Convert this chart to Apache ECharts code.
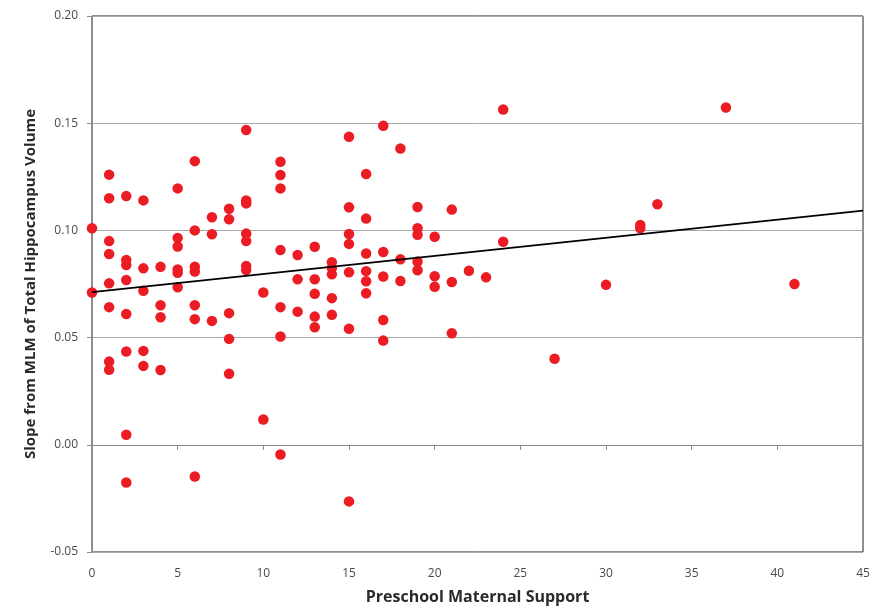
<!DOCTYPE html>
<html>
<head>
<meta charset="utf-8">
<script src="https://cdn.jsdelivr.net/npm/echarts@6/dist/echarts.min.js"></script>
<style>
html,body{margin:0;padding:0;background:#fff;}
#chart{width:877px;height:614px;}
</style>
</head>
<body>
<div id="chart"></div>
<script>
// Preschool Maternal Support (x) and slope values (y), grouped by x value
var supportX = [
  0,0,
  1,1,1,1,1,1,1,1,
  2,2,2,2,2,2,2,2,
  3,3,3,3,3,
  4,4,4,4,
  5,5,5,5,5,5,
  6,6,6,6,6,6,6,
  7,7,7,
  8,8,8,8,8,
  9,9,9,9,9,9,9,
  10,10,
  11,11,11,11,11,11,11,
  12,12,12,
  13,13,13,13,13,
  14,14,14,14,14,
  15,15,15,15,15,15,15,
  16,16,16,16,16,16,
  17,17,17,17,17,
  18,18,18,
  19,19,19,19,19,
  20,20,20,
  21,21,21,
  22,23,
  24,24,
  27,30,32,32,33,37,41
];
var slopeY = [
  0.101,0.071,
  0.126,0.115,0.0950,0.089,0.0753,0.0642,0.0388,0.0350,
  0.116,0.0862,0.0839,0.0769,0.061,0.0435,0.0047,-0.0176,
  0.114,0.0823,0.0718,0.0438,0.0368,
  0.083,0.0651,0.0595,0.0349,
  0.1196,0.0965,0.0925,0.0818,0.0802,0.0735,
  0.1323,0.100,0.0831,0.0808,0.0651,0.0586,-0.0148,
  0.1061,0.0982,0.0578,
  0.1101,0.1052,0.0614,0.0494,0.0331,
  0.1468,0.114,0.1126,0.0985,0.0950,0.0834,0.0815,
  0.071,0.0118,
  0.132,0.1258,0.1196,0.0908,0.0642,0.0505,-0.0045,
  0.0885,0.0772,0.0621,
  0.0924,0.0772,0.0704,0.0598,0.0548,
  0.0852,0.0825,0.0795,0.0684,0.0606,
  0.1437,0.1108,0.0983,0.0937,0.0805,0.0541,-0.0264,
  0.1263,0.1055,0.0892,0.0810,0.0763,0.0707,
  0.1488,0.0899,0.0785,0.0582,0.0486,
  0.1382,0.0865,0.0764,
  0.1109,0.1010,0.0980,0.0855,0.0814,
  0.0970,0.0786,0.0737,
  0.1097,0.0759,0.052,
  0.0812,0.0781,
  0.1564,0.0947,
  0.0401,0.0746,0.1025,0.1010,0.1122,0.1573,0.075
];
// Linear trend line end points
var trendX = [0, 45];
var trendY = [0.0712, 0.1092];

var xTicks = [0,5,10,15,20,25,30,35,40,45];
var yTicks = [-0.05,0,0.05,0.10,0.15,0.20];

var points = supportX.map(function(x,i){ return [x, slopeY[i]]; });
var trend = trendX.map(function(x,i){ return [x, trendY[i]]; });

var chart = echarts.init(document.getElementById('chart'), null, {renderer:'canvas'});
var labelFont = "'Open Sans', 'Liberation Sans', sans-serif";
chart.setOption({
  animation: false,
  backgroundColor: '#ffffff',
  grid: {left: 92, right: 14, top: 16, bottom: 62, show: true, borderColor: '#222222', borderWidth: 1},
  xAxis: {
    type: 'value', min: xTicks[0], max: xTicks[xTicks.length-1], interval: 5,
    name: 'Preschool Maternal Support', nameLocation: 'middle', nameGap: 37,
    nameTextStyle: {fontFamily: labelFont, fontWeight: 'bold', fontSize: 16, color: '#2a2a2a'},
    axisLine: {show: true, lineStyle: {color: '#8a8a8a', width: 1}},
    axisTick: {show: true, length: 5, lineStyle: {color: '#8a8a8a'}},
    axisLabel: {fontFamily: labelFont, fontSize: 12, color: '#4a4a4a', margin: 16},
    splitLine: {show: false}
  },
  yAxis: {
    type: 'value', min: yTicks[0], max: yTicks[yTicks.length-1], interval: 0.05,
    name: 'Slope from MLM of Total Hippocampus Volume', nameLocation: 'middle', nameGap: 54,
    nameTextStyle: {fontFamily: labelFont, fontWeight: 'bold', fontSize: 15, color: '#2a2a2a'},
    axisLine: {show: true, lineStyle: {color: '#8a8a8a', width: 1}},
    axisTick: {show: true, length: 5, lineStyle: {color: '#8a8a8a'}},
    axisLabel: {fontFamily: labelFont, fontSize: 12, color: '#4a4a4a', margin: 14,
      formatter: function(v){ return v.toFixed(2); }},
    splitLine: {show: true, lineStyle: {color: '#a8a8a8', width: 1}}
  },
  series: [
    {
      type: 'scatter', data: points, symbol: 'circle', symbolSize: 10.5,
      itemStyle: {color: '#ec1c24', opacity: 1}, z: 2
    },
    {
      type: 'line', data: trend, symbol: 'none', z: 3,
      lineStyle: {color: '#000000', width: 1.8}
    }
  ]
});
</script>
</body>
</html>
